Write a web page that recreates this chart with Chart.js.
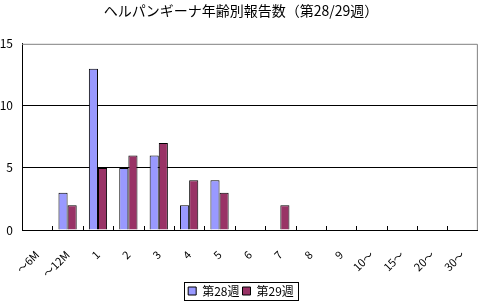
<!DOCTYPE html>
<html>
<head>
<meta charset="utf-8">
<script src="https://cdn.jsdelivr.net/npm/chart.js@4"></script>
<style>
  html, body { margin: 0; padding: 0; background: #fff; }
  #wrap { width: 482px; height: 304px; }
</style>
</head>
<body>
<div id="wrap"><canvas id="c" width="482" height="304"></canvas></div>
<script>
'use strict';

/* ── data ── */
const categories = ['～6M', '～12M', '1', '2', '3', '4', '5', '6', '7', '8', '9', '10～', '15～', '20～', '30～'];
const week28 = [0, 3, 13, 5, 6, 2, 4, 0, 0, 0, 0, 0, 0, 0, 0];
const week29 = [0, 2, 5, 6, 7, 4, 3, 0, 2, 0, 0, 0, 0, 0, 0];
const yTicks = [0, 5, 10, 15];

const FONT = '"Noto Sans CJK JP", "Noto Sans", sans-serif';

// inner tick marks on x axis + plot frame + legend box
const frame = {
  id: 'frame',
  afterDraw(chart) {
    const { ctx, chartArea: a, scales: { x } } = chart;
    ctx.save();
    // grey frame top / right
    ctx.strokeStyle = '#808080';
    ctx.lineWidth = 1;
    ctx.beginPath();
    ctx.moveTo(a.left, a.top + 0.5);
    ctx.lineTo(a.right - 0.5, a.top + 0.5);
    ctx.lineTo(a.right - 0.5, a.bottom);
    ctx.stroke();
    // x ticks pointing up, at category boundaries
    ctx.strokeStyle = '#000';
    ctx.beginPath();
    for (let i = 1; i < categories.length; i++) {
      const px = Math.round((x.getPixelForValue(i - 1) + x.getPixelForValue(i)) / 2) + 0.5;
      ctx.moveTo(px, a.bottom);
      ctx.lineTo(px, a.bottom - 4);
    }
    ctx.stroke();
    // legend border, around the items only
    const hb = chart.legend.legendHitBoxes;
    if (hb && hb.length) {
      const l = Math.min(...hb.map(b => b.left)) - 4;
      const r = Math.max(...hb.map(b => b.left + b.width)) + 4;
      const t = Math.min(...hb.map(b => b.top)) - 3;
      const bt = Math.max(...hb.map(b => b.top + b.height)) + 3;
      ctx.strokeRect(Math.round(l) + 0.5, Math.round(t) + 0.5, Math.round(r - l), Math.round(bt - t));
    }
    ctx.restore();
  }
};

new Chart(document.getElementById('c'), {
  type: 'bar',
  data: {
    labels: categories,
    datasets: [
      { label: '第28週', data: week28, backgroundColor: '#9999ff', borderColor: '#000', borderWidth: 1 },
      { label: '第29週', data: week29, backgroundColor: '#993366', borderColor: '#000', borderWidth: 1 }
    ]
  },
  options: {
    responsive: false,
    animation: false,
    devicePixelRatio: 1,
    layout: { padding: { left: 0, right: 0, top: 0, bottom: -3 } },
    datasets: { bar: { categoryPercentage: 0.6, barPercentage: 1 } },
    plugins: {
      title: {
        display: true,
        text: 'ヘルパンギーナ年齢別報告数（第28/29週）',
        color: '#000',
        font: { family: FONT, size: 14, weight: 'normal' },
        padding: { top: 2, bottom: 25 }
      },
      legend: {
        position: 'bottom',
        labels: {
          color: '#000',
          font: { family: FONT, size: 12 },
          boxWidth: 8,
          boxHeight: 8,
          padding: 3
        }
      },
      tooltip: { enabled: false }
    },
    scales: {
      x: {
        grid: { display: false },
        border: { display: true, color: '#000', width: 1 },
        afterFit: s => { s.height = 52; },
        ticks: {
          color: '#000',
          font: { family: FONT, size: 11 },
          minRotation: 45,
          maxRotation: 45,
          autoSkip: false,
          padding: 10
        }
      },
      y: {
        min: 0,
        max: 15,
        afterBuildTicks: s => { s.ticks = yTicks.map(v => ({ value: v })); },
        afterFit: s => { s.width = 22; },
        grid: { color: ctx => ctx.tick.value === 15 ? 'rgba(0,0,0,0)' : '#000', drawTicks: false },
        border: { display: true, color: '#000', width: 1 },
        ticks: { color: '#000', font: { family: FONT, size: 12 }, padding: 9 }
      }
    }
  },
  plugins: [frame]
});
</script>
</body>
</html>
